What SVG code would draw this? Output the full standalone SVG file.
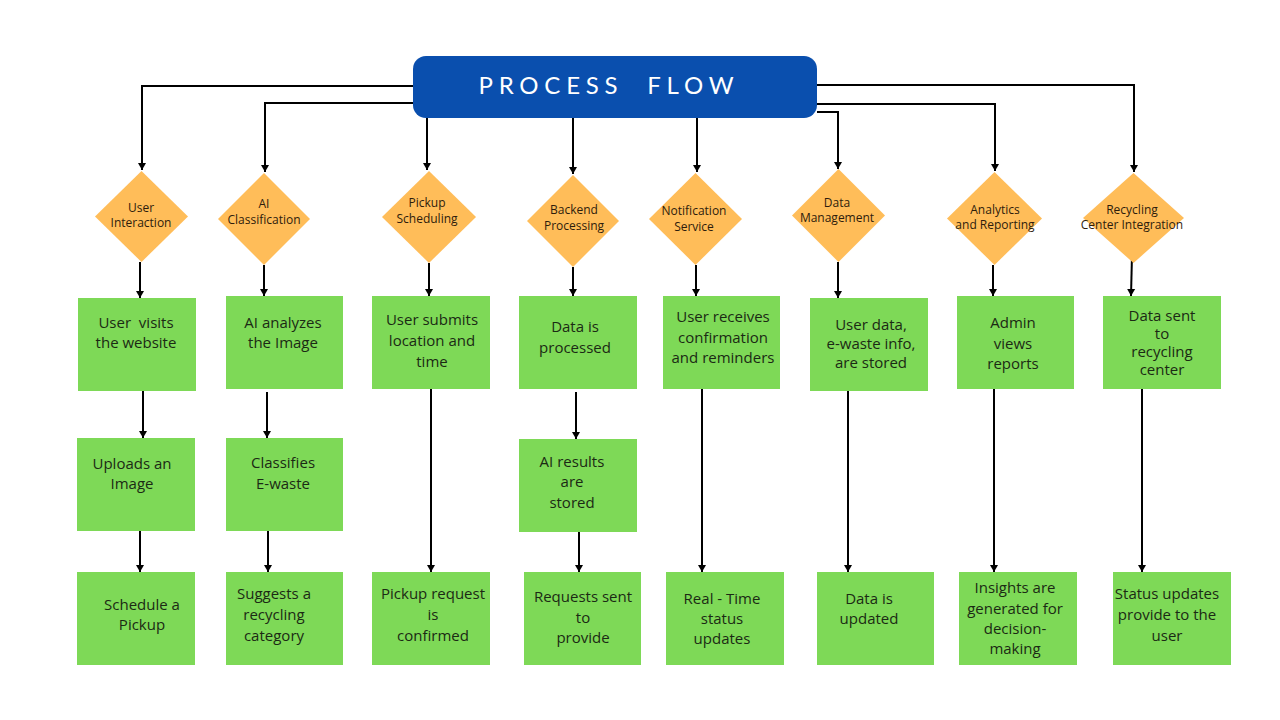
<svg xmlns="http://www.w3.org/2000/svg" width="1280" height="720" viewBox="0 0 1280 720">
<style>
.box{fill:#7ed957}
.dia{fill:#ffbd59}
.bt{font-family:"Open Sans","Noto Sans",sans-serif;font-size:15px;fill:#1b2a14;text-anchor:middle;white-space:pre}
.dt{font-family:"Open Sans","Noto Sans",sans-serif;font-size:12px;fill:#2e1c0c;text-anchor:middle}
.ln{fill:none;stroke:#000;stroke-width:2;marker-end:url(#ah)}
</style>
<defs>
<marker id="ah" markerUnits="userSpaceOnUse" markerWidth="10" markerHeight="10" refX="8" refY="5" orient="auto">
<path d="M1,1 L8,5 L1,9 Z" fill="#000"/>
</marker>
</defs>
<rect width="1280" height="720" fill="#fff"/>

<g id="connectors">
<path class="ln" d="M413,86 H142 V170"/>
<path class="ln" d="M413,103 H265 V172"/>
<path class="ln" d="M427,118 V170"/>
<path class="ln" d="M573,118 V174"/>
<path class="ln" d="M697,118 V172"/>
<path class="ln" d="M817,112 H838 V169"/>
<path class="ln" d="M817,104 H995 V171"/>
<path class="ln" d="M817,85 H1134 V172"/>

<path class="ln" d="M140,262 V298"/>
<path class="ln" d="M264,265 V296"/>
<path class="ln" d="M429,263 V296"/>
<path class="ln" d="M573,267 V296"/>
<path class="ln" d="M696,265 V296"/>
<path class="ln" d="M838,262 V298"/>
<path class="ln" d="M993,265 V296"/>
<path class="ln" d="M1132,255 L1131,296"/>

<path class="ln" d="M143,391 V438"/>
<path class="ln" d="M140,526 V572"/>
<path class="ln" d="M267,392 V438"/>
<path class="ln" d="M268,531 V572"/>
<path class="ln" d="M431,389 V572"/>
<path class="ln" d="M576,392 V439"/>
<path class="ln" d="M579,532 V572"/>
<path class="ln" d="M702,389 V572"/>
<path class="ln" d="M848,391 V572"/>
<path class="ln" d="M994,389 V572"/>
<path class="ln" d="M1142,389 V572"/>
</g>

<g id="header">
<rect x="413" y="56" width="404" height="62" rx="13" fill="#0a4fae"/>
<text x="606" y="94" font-family="Lato,'Liberation Sans',sans-serif" font-size="24" fill="#fff" text-anchor="middle" textLength="255" lengthAdjust="spacing" style="white-space:pre">PROCESS  FLOW</text>
</g>

<g id="d-user"><polygon class="dia" points="141.5,171 188,216.5 141.5,262 95,216.5"/>
<text class="dt" x="141" y="212">User</text><text class="dt" x="141" y="227">Interaction</text></g>
<g id="d-ai"><polygon class="dia" points="264,173 310,219 264,265 218,219"/>
<text class="dt" x="264" y="208">AI</text><text class="dt" x="264" y="224">Classification</text></g>
<g id="d-pickup"><polygon class="dia" points="429,171 476,217 429,263 382,217"/>
<text class="dt" x="427" y="207">Pickup</text><text class="dt" x="427" y="223">Scheduling</text></g>
<g id="d-backend"><polygon class="dia" points="573,175 619,221 573,267 527,221"/>
<text class="dt" x="574" y="214">Backend</text><text class="dt" x="574" y="230">Processing</text></g>
<g id="d-notif"><polygon class="dia" points="695.5,173 742,219 695.5,265 649,219"/>
<text class="dt" x="694" y="215">Notification</text><text class="dt" x="694" y="231">Service</text></g>
<g id="d-data"><polygon class="dia" points="838.5,169 885,215.5 838.5,262 792,215.5"/>
<text class="dt" x="837" y="207" font-size="11">Data</text><text class="dt" x="837" y="222" font-size="11">Management</text></g>
<g id="d-analytics"><polygon class="dia" points="994.5,172 1042,218.5 994.5,265 947,218.5"/>
<text class="dt" x="995" y="214" font-size="11">Analytics</text><text class="dt" x="995" y="229" font-size="11">and Reporting</text></g>
<g id="d-recycling"><polygon class="dia" points="1133.5,173 1184,218 1133.5,263 1083,218"/>
<text class="dt" x="1132" y="214" font-size="10">Recycling</text><text class="dt" x="1132" y="229" font-size="9.5">Center Integration</text></g>

<g id="b-user1"><rect class="box" x="78" y="298" width="118" height="93"/>
<text class="bt" x="136" y="328">User  visits</text><text class="bt" x="136" y="348">the website</text></g>
<g id="b-user2"><rect class="box" x="77" y="438" width="118" height="93"/>
<text class="bt" x="132" y="469">Uploads an</text><text class="bt" x="132" y="489">Image</text></g>
<g id="b-user3"><rect class="box" x="77" y="572" width="118" height="93"/>
<text class="bt" x="142" y="610">Schedule a</text><text class="bt" x="142" y="630">Pickup</text></g>

<g id="b-ai1"><rect class="box" x="226" y="296" width="117" height="93"/>
<text class="bt" x="283" y="328">AI analyzes</text><text class="bt" x="283" y="348">the Image</text></g>
<g id="b-ai2"><rect class="box" x="226" y="438" width="117" height="93"/>
<text class="bt" x="283" y="468">Classifies</text><text class="bt" x="283" y="489">E-waste</text></g>
<g id="b-ai3"><rect class="box" x="226" y="572" width="117" height="93"/>
<text class="bt" x="274" y="599">Suggests a</text><text class="bt" x="274" y="620">recycling</text><text class="bt" x="274" y="641">category</text></g>

<g id="b-pick1"><rect class="box" x="372" y="296" width="118" height="93"/>
<text class="bt" x="432" y="325">User submits</text><text class="bt" x="432" y="346">location and</text><text class="bt" x="432" y="367">time</text></g>
<g id="b-pick2"><rect class="box" x="372" y="572" width="118" height="93"/>
<text class="bt" x="433" y="599">Pickup request</text><text class="bt" x="433" y="620">is</text><text class="bt" x="433" y="641">confirmed</text></g>

<g id="b-back1"><rect class="box" x="519" y="296" width="118" height="93"/>
<text class="bt" x="575" y="332">Data is</text><text class="bt" x="575" y="353">processed</text></g>
<g id="b-back2"><rect class="box" x="519" y="439" width="118" height="93"/>
<text class="bt" x="572" y="467">AI results</text><text class="bt" x="572" y="487">are</text><text class="bt" x="572" y="508">stored</text></g>
<g id="b-back3"><rect class="box" x="524" y="572" width="117" height="93"/>
<text class="bt" x="583" y="602">Requests sent</text><text class="bt" x="583" y="623">to</text><text class="bt" x="583" y="643">provide</text></g>

<g id="b-notif1"><rect class="box" x="663" y="296" width="117" height="93"/>
<text class="bt" x="723" y="322">User receives</text><text class="bt" x="723" y="343">confirmation</text><text class="bt" x="723" y="363">and reminders</text></g>
<g id="b-notif2"><rect class="box" x="666" y="572" width="118" height="93"/>
<text class="bt" x="722" y="604">Real - Time</text><text class="bt" x="722" y="624">status</text><text class="bt" x="722" y="644">updates</text></g>

<g id="b-data1"><rect class="box" x="810" y="298" width="118" height="93"/>
<text class="bt" x="871" y="330" font-size="14">User data,</text><text class="bt" x="871" y="349" font-size="14">e-waste info,</text><text class="bt" x="871" y="368" font-size="14">are stored</text></g>
<g id="b-data2"><rect class="box" x="817" y="572" width="117" height="93"/>
<text class="bt" x="869" y="604">Data is</text><text class="bt" x="869" y="624">updated</text></g>

<g id="b-an1"><rect class="box" x="957" y="296" width="117" height="93"/>
<text class="bt" x="1013" y="328">Admin</text><text class="bt" x="1013" y="349">views</text><text class="bt" x="1013" y="369">reports</text></g>
<g id="b-an2"><rect class="box" x="959" y="572" width="118" height="93"/>
<text class="bt" x="1015" y="593">Insights are</text><text class="bt" x="1015" y="614">generated for</text><text class="bt" x="1015" y="634">decision-</text><text class="bt" x="1015" y="654">making</text></g>

<g id="b-rec1"><rect class="box" x="1103" y="296" width="118" height="93"/>
<text class="bt" x="1162" y="321" font-size="13">Data sent</text><text class="bt" x="1162" y="339" font-size="13">to</text><text class="bt" x="1162" y="357" font-size="13">recycling</text><text class="bt" x="1162" y="375" font-size="13">center</text></g>
<g id="b-rec2"><rect class="box" x="1113" y="572" width="118" height="93"/>
<text class="bt" x="1167" y="599">Status updates</text><text class="bt" x="1167" y="620">provide to the</text><text class="bt" x="1167" y="641">user</text></g>
</svg>
